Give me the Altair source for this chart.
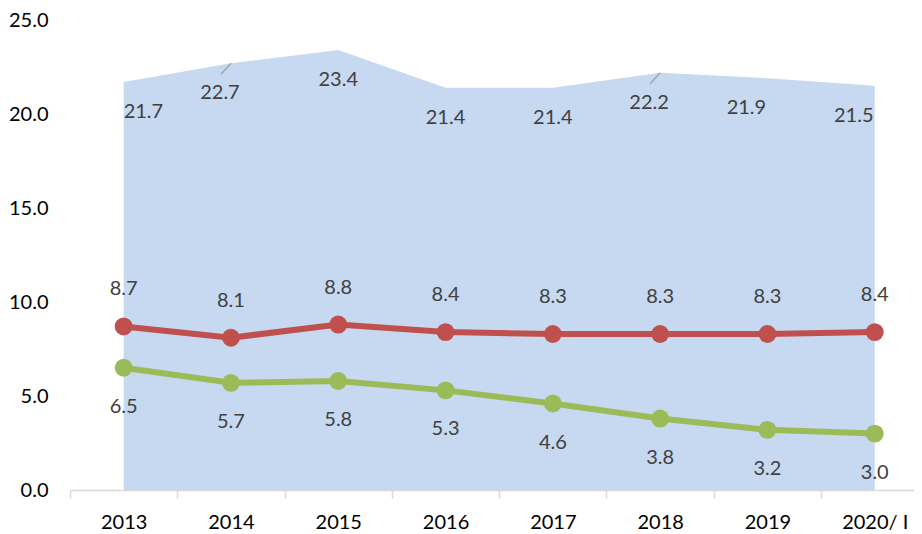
import altair as alt
import pandas as pd

years = ["2013", "2014", "2015", "2016", "2017", "2018", "2019", "2020/ I"]
area_vals = [21.7, 22.7, 23.4, 21.4, 21.4, 22.2, 21.9, 21.5]
red_vals = [8.7, 8.1, 8.8, 8.4, 8.3, 8.3, 8.3, 8.4]
green_vals = [6.5, 5.7, 5.8, 5.3, 4.6, 3.8, 3.2, 3.0]
y_ticks = [0, 5, 10, 15, 20, 25]
leader_years = ["2014", "2018"]

df = pd.DataFrame({
    "year": years, "idx": list(range(len(years))),
    "area": area_vals, "red": red_vals, "green": green_vals,
})

FONT = "Lato"
# the category axis runs past the right edge of the picture, as in the original
x_scale = alt.Scale(domain=[-0.5, 7.366], nice=False, zero=False)
label_expr = "[" + ",".join("'" + y + "'" for y in years) + "][datum.value]"
boundaries = [i - 0.5 for i in range(len(years))]

x_tick_axis = alt.Axis(
    orient="bottom", values=boundaries, labels=False, grid=False,
    domainColor="#D9D9D9", tickColor="#D9D9D9", tickSize=8,
    domainWidth=1.5, tickWidth=1.5,
)
x_label_axis = alt.Axis(
    orient="bottom", values=list(range(len(years))), labelExpr=label_expr,
    ticks=False, tickSize=0, domain=False, grid=False,
    labelFontSize=20, labelFont=FONT, labelColor="black", labelPadding=22,
    labelAngle=0,
)

def x_enc(axis):
    return alt.X("idx:Q", title=None, scale=x_scale, axis=axis)

def y_enc(field):
    return alt.Y(
        f"{field}:Q",
        title=None,
        scale=alt.Scale(domain=[0, 25], nice=False),
        axis=alt.Axis(
            values=y_ticks, format=".1f", grid=False, domain=False, ticks=False,
            labelFontSize=20, labelFont=FONT, labelColor="black", labelPadding=22,
        ),
    )

base = alt.Chart(df)
XL = x_enc(x_label_axis)

area = base.mark_area(color="#C6D9F0", opacity=1).encode(x=x_enc(x_tick_axis), y=y_enc("area"))

def area_text(sel, **kw):
    return base.transform_filter(
        alt.FieldOneOfPredicate(field="year", oneOf=sel)
    ).mark_text(dy=30, fontSize=20, font=FONT, color="#404040", **kw).encode(
        x=XL, y=y_enc("area"), text=alt.Text("area:Q", format=".1f"))

area_lbl_a = area_text(["2013"], align="left", dx=0)
area_lbl_b = area_text(["2015", "2016", "2017"], align="center")
area_lbl_c = area_text(["2014", "2018"], align="center", dx=-11)
area_lbl_d = area_text(["2019", "2020/ I"], align="center", dx=-21)

leaders = base.transform_filter(
    alt.FieldOneOfPredicate(field="year", oneOf=leader_years)
).mark_rule(color="#A6A6A6", strokeWidth=1.5, x2Offset=-10, y2Offset=11).encode(
    x=XL, y=y_enc("area"), x2=alt.X2("idx:Q"), y2=alt.Y2("area:Q"))

def line_text(field, dy):
    return base.mark_text(dy=dy, fontSize=20, font=FONT, color="#404040").encode(
        x=XL, y=y_enc(field), text=alt.Text(f"{field}:Q", format=".1f"))

red_line = base.mark_line(color="#C0504D", strokeWidth=6).encode(x=XL, y=y_enc("red"))
red_pts = base.mark_circle(color="#C0504D", size=320, opacity=1).encode(x=XL, y=y_enc("red"))
red_lbl = line_text("red", -37)

green_line = base.mark_line(color="#9BBB59", strokeWidth=6).encode(x=XL, y=y_enc("green"))
green_pts = base.mark_circle(color="#9BBB59", size=320, opacity=1).encode(x=XL, y=y_enc("green"))
green_lbl = line_text("green", 39)

rest = alt.layer(
    area_lbl_a, area_lbl_b, area_lbl_c, area_lbl_d, leaders,
    red_line, red_pts, red_lbl,
    green_line, green_pts, green_lbl,
)

chart = alt.layer(area, rest).resolve_axis(x="independent").properties(
    width=844, height=470,
    autosize=alt.AutoSizeParams(type="none"),
    padding={"left": 62, "top": 12, "right": 0, "bottom": 44},
).configure_view(stroke=None)

chart.save("out.html", embed_options={"renderer": "svg", "actions": False})
